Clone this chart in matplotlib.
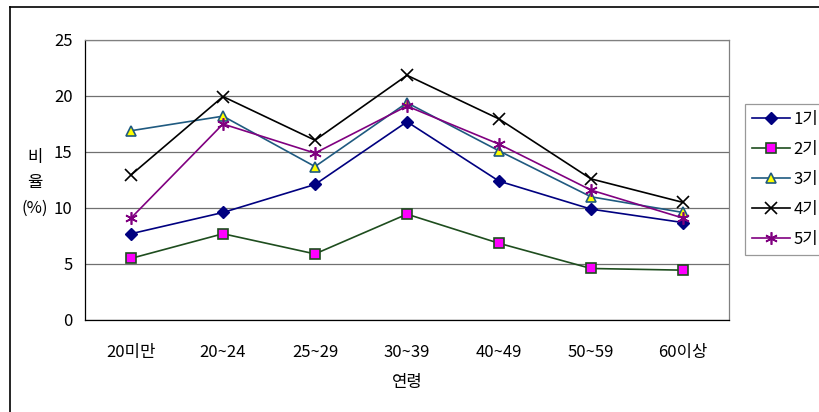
import matplotlib
matplotlib.use("Agg")
import matplotlib.pyplot as plt
from matplotlib.lines import Line2D

plt.rcParams['font.family'] = ['Noto Sans CJK KR', 'DejaVu Sans']

categories = ['20미만', '20~24', '25~29', '30~39', '40~49', '50~59', '60이상']
series_names = ['1기', '2기', '3기', '4기', '5기']
s1 = [7.7, 9.6, 12.1, 17.7, 12.4, 9.9, 8.7]
s2 = [5.5, 7.7, 5.9, 9.45, 6.85, 4.6, 4.45]
s3 = [16.9, 18.2, 13.7, 19.4, 15.1, 11.0, 9.6]
s4 = [12.95, 19.95, 16.05, 21.85, 17.95, 12.6, 10.5]
s5 = [9.1, 17.5, 14.9, 19.1, 15.7, 11.6, 9.1]
yticks = [0, 5, 10, 15, 20, 25]

W, H = 819, 412
fig = plt.figure(figsize=(W / 100, H / 100), dpi=100)
ax = fig.add_axes([85 / W, 1 - 320 / H, (729 - 85) / W, (320 - 40) / H])

x = list(range(len(categories)))
styles = [
    dict(color='#000080', marker='D', markersize=6, markerfacecolor='#000080', markeredgecolor='#000080'),
    dict(color='#1E4D1E', marker='s', markersize=6.5, markerfacecolor='#FF00FF', markeredgecolor='#1E4D1E', markeredgewidth=1.2),
    dict(color='#1F5A80', marker='^', markersize=7.5, markerfacecolor='#FFFF00', markeredgecolor='#1F5A80', markeredgewidth=1.2),
    dict(color='#000000', marker='x', markersize=8, markeredgewidth=1.2),
    dict(color='#800080', marker=(6, 2, 0), markersize=9, markeredgewidth=1.2),
]
data = [s1, s2, s3, s4, s5]
for vals, name, st in zip(data, series_names, styles):
    ax.plot(x, vals, linewidth=1.2, label=name, zorder=3, **st)

ax.set_xlim(-0.5, len(categories) - 0.5)
ax.set_ylim(0, 25)
ax.set_yticks(yticks)
ax.set_xticks(x)
ax.set_xticklabels(categories, fontsize=12)
ax.set_yticklabels([str(v) for v in yticks], fontsize=12)
ax.tick_params(axis='both', length=0)
ax.tick_params(axis='y', pad=9)
ax.tick_params(axis='x', pad=17)
ax.yaxis.grid(True, color='#707070', linewidth=0.9)
ax.set_axisbelow(True)
for side in ['top', 'right']:
    ax.spines[side].set_color('#808080')
    ax.spines[side].set_linewidth(0.9)
for side in ['left', 'bottom']:
    ax.spines[side].set_color('#000000')
    ax.spines[side].set_linewidth(0.9)

ax.set_xlabel('연령', fontsize=12, labelpad=10)
fig.text(35 / W, 1 - 183 / H, '비\n율\n(%)', fontsize=12, ha='center', va='center',
         linespacing=1.65)

leg = fig.legend(loc='upper left', bbox_to_anchor=(745 / W, 1 - 104 / H), borderaxespad=0,
                 fontsize=12, frameon=True, fancybox=False, edgecolor='#808080',
                 handlelength=2.3, handletextpad=0.2, labelspacing=0.78, borderpad=0.42)
leg.get_frame().set_linewidth(0.9)

# outer chart border
fig.add_artist(Line2D([10 / W, 10 / W], [0, 1 - 7 / H], transform=fig.transFigure, color='black', linewidth=1.2))
fig.add_artist(Line2D([10 / W, 1], [1 - 7 / H, 1 - 7 / H], transform=fig.transFigure, color='black', linewidth=1.2))

fig.savefig('out.png', dpi=100, facecolor='white')
